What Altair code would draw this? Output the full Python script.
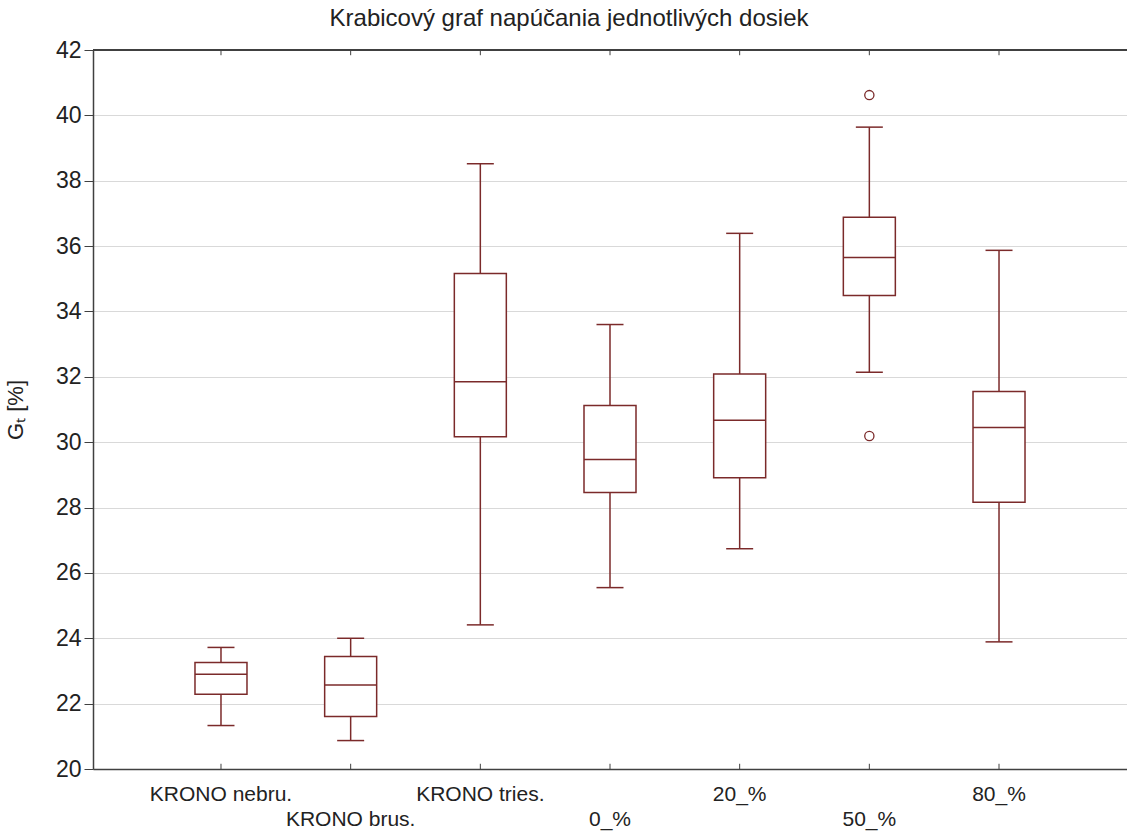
import altair as alt
import pandas as pd

categories = ["KRONO nebru.", "KRONO brus.", "KRONO tries.", "0_%", "20_%", "50_%", "80_%"]
whisker_low = [21.33, 20.87, 24.41, 25.55, 26.74, 32.14, 23.89]
q1 = [22.29, 21.61, 30.17, 28.46, 28.91, 34.49, 28.16]
median = [22.90, 22.57, 31.85, 29.47, 30.67, 35.65, 30.45]
q3 = [23.26, 23.44, 35.16, 31.12, 32.09, 36.88, 31.55]
whisker_high = [23.72, 24.00, 38.52, 33.60, 36.39, 39.64, 35.87]
outlier_cat = ["50_%", "50_%"]
outlier_val = [40.62, 30.19]
y_ticks = list(range(20, 43, 2))
second_row = ["KRONO brus.", "0_%", "50_%"]

df = pd.DataFrame({"cat": categories, "lo": whisker_low, "q1": q1,
                   "med": median, "q3": q3, "hi": whisker_high})
out_df = pd.DataFrame({"cat": outlier_cat, "val": outlier_val})

W, H = 1034, 719
FONT = "Liberation Sans, Arial, sans-serif"
COL = "#7b2a2a"
AX = "#404040"
TXT = "#222222"
SW = 1.5

xscale = alt.Scale(domain=categories, paddingInner=0, paddingOuter=0.487)
second_js = "[" + ",".join("'" + s + "'" for s in second_row) + "]"
x_axis = alt.Axis(
    labelExpr="indexof(" + second_js + ", datum.value) >= 0 ? ['', datum.value] : datum.value",
    labelAngle=0, labelFontSize=21, labelFont=FONT, labelColor=TXT,
    labelBaseline="top", labelPadding=14, labelLineHeight=25,
    ticks=False, grid=False, domain=True, domainColor=AX, domainWidth=1.5,
    title=None, labelOverlap=False,
)
x = alt.X("cat:N", sort=categories, scale=xscale, axis=x_axis)
yscale = alt.Scale(domain=[20, 42], nice=False, zero=False)
y_axis = alt.Axis(
    values=y_ticks, labelFontSize=23, labelFont=FONT, labelColor=TXT,
    labelPadding=3, tickSize=9, tickColor=AX, tickWidth=1,
    grid=True, gridColor="#d9d9d9", gridWidth=1,
    domain=True, domainColor=AX, domainWidth=1.5,
    title="Gₜ [%]", titleFont=FONT, titleFontSize=22, titleFontWeight="normal",
    titleColor=TXT, titleX=-78, titleAlign="center", titleBaseline="middle",
)

base = alt.Chart(df)
whisk = base.mark_rule(color=COL, strokeWidth=SW).encode(
    x=x, y=alt.Y("lo:Q", scale=yscale, axis=y_axis), y2="hi:Q")
box = base.mark_bar(size=52, fill="white", stroke=COL, strokeWidth=SW, opacity=1).encode(
    x=x, y="q1:Q", y2="q3:Q")
med = base.mark_tick(size=52, thickness=SW, color=COL, opacity=1).encode(x=x, y="med:Q")
cap_lo = base.mark_tick(size=27, thickness=SW, color=COL, opacity=1).encode(x=x, y="lo:Q")
cap_hi = base.mark_tick(size=27, thickness=SW, color=COL, opacity=1).encode(x=x, y="hi:Q")
outl = alt.Chart(out_df).mark_point(shape="circle", size=85, filled=False, color=COL,
                                    strokeWidth=1.3, opacity=1).encode(x=x, y="val:Q")
bticks = base.mark_rule(color=AX, strokeWidth=1).encode(x=x, y=alt.datum(20), y2=alt.datum(20.16))
tticks = base.mark_rule(color=AX, strokeWidth=1).encode(x=x, y=alt.datum(42), y2=alt.datum(41.84))
topline = base.mark_rule(color=AX, strokeWidth=1.5).encode(
    y=alt.datum(42), x=alt.value(0), x2=alt.value(W))

chart = alt.layer(whisk, box, med, cap_lo, cap_hi, outl, bticks, tticks, topline).properties(
    width=W, height=H,
    autosize=alt.AutoSizeParams(type="none"),
    padding={"left": 93, "top": 50, "right": 0, "bottom": 65},
    title=alt.Title("Krabicový graf napúčania jednotlivých dosiek", font=FONT, fontSize=24,
                    fontWeight="normal", color=TXT, anchor="middle", dx=-41, offset=8),
).configure_view(stroke=None).configure(background="white")

chart.save("out.html", embed_options={"renderer": "svg", "actions": False})
